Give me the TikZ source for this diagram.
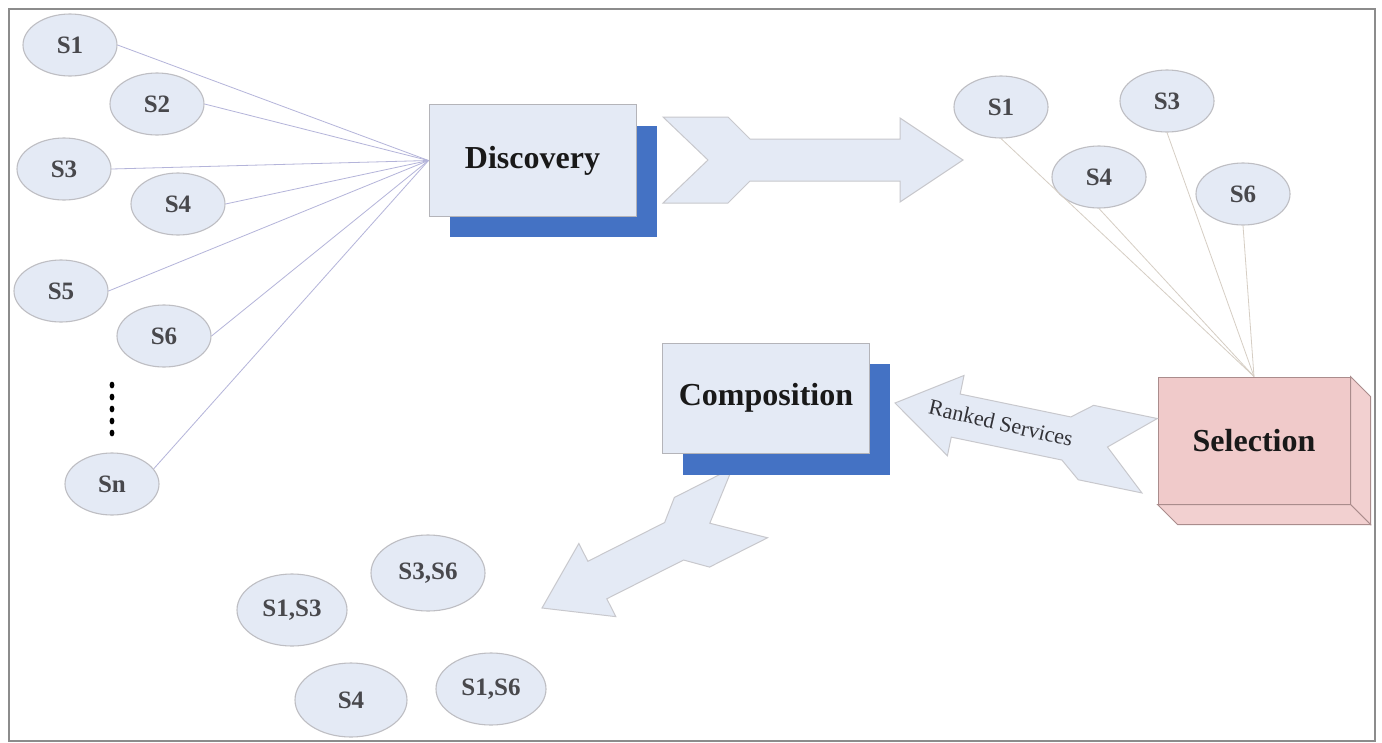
\documentclass[tikz,border=0pt]{standalone}
\usepackage{fontspec}
\setmainfont{Liberation Serif}
\usetikzlibrary{shapes.geometric,calc}
\definecolor{ellfill}{RGB}{228,234,245}
\definecolor{ellline}{RGB}{190,190,195}
\definecolor{svctext}{RGB}{72,72,76}
\definecolor{boxfill}{RGB}{228,234,245}
\definecolor{boxline}{RGB}{180,180,185}
\definecolor{shadowblue}{RGB}{68,114,196}
\definecolor{pinkfront}{RGB}{240,202,202}
\definecolor{pinkside}{RGB}{242,208,208}
\definecolor{pinkline}{RGB}{170,140,140}
\definecolor{leftline}{RGB}{180,180,218}
\definecolor{rightline}{RGB}{214,206,196}
\definecolor{framecol}{RGB}{140,140,140}
\definecolor{arrowline}{RGB}{200,200,205}
\newcommand{\svcfont}{\fontsize{25}{30}\selectfont\bfseries}
\newcommand{\titlefont}{\fontsize{32}{36}\selectfont\bfseries}
\newcommand{\rankfont}{\fontsize{22}{24}\selectfont}
\tikzset{
  svc/.style={ellipse, draw=ellline, fill=ellfill, line width=1.1pt, minimum width=94, minimum height=62, inner sep=0pt, font=\svcfont, text=svctext},
  svcbig/.style={svc, minimum width=110, minimum height=72},
  frontbox/.style={rectangle, draw=boxline, fill=boxfill, line width=1pt, minimum width=207, minimum height=112, inner sep=0pt, font=\titlefont, text={rgb,255:red,25;green,25;blue,25}},
  shadowbox/.style={rectangle, fill=shadowblue, minimum width=207, minimum height=111, inner sep=0pt},
  selbox/.style={rectangle, draw=pinkline, fill=pinkfront, line width=1pt, minimum width=192, minimum height=127, inner sep=0pt, font=\titlefont, text={rgb,255:red,25;green,25;blue,25}},
  lconn/.style={draw=leftline, line width=0.8pt},
  rconn/.style={draw=rightline, line width=0.8pt},
  blockarrow/.style={fill=boxfill, draw=arrowline, line width=1pt, line join=miter},
}
\begin{document}
\begin{tikzpicture}[x=1pt,y=-1pt]
\useasboundingbox (0,0) rectangle (1382,742);
\fill[white] (0,0) rectangle (1382,742);
\draw[framecol, line width=2.5pt] (9,9) rectangle (1375,741);

% boxes (nodes defined first for connectors)
\node[shadowbox] (discsh) at (553.5,181.5) {};
\node[frontbox] (disc) at (532.5,160.5) {Discovery};

% left service ellipses
\node[svc] (l1) at (70,45) {S1};
\node[svc] (l2) at (157,104) {S2};
\node[svc] (l3) at (64,169) {S3};
\node[svc] (l4) at (178,204) {S4};
\node[svc] (l5) at (61,291) {S5};
\node[svc] (l6) at (164,336) {S6};
\node[svc] (ln) at (112,484) {Sn};
\foreach \yy in {385,397,409,421,433}
  \fill[black] (112,\yy) ellipse [x radius=2.4pt, y radius=3.4pt];

\foreach \s in {l1,l2,l3,l4,l5,l6}
  \draw[lconn] (\s.east) -- (disc.west);
\draw[lconn] (ln.20) -- (disc.west);

% discovery arrow
\begin{scope}[shift={(963,160)}, rotate=180]
\draw[blockarrow] (0,0) -- (63,-42) -- (63,-21) -- (213,-21) -- (235,-43) -- (300,-43) -- (255,0) -- (300,43) -- (235,43) -- (213,21) -- (63,21) -- (63,42) -- cycle;
\end{scope}

% selection box (3D)
\node[selbox] (sel) at (1254,440.5) {};
\filldraw[fill=pinkside, draw=pinkline, line width=1pt] (sel.north east) -- ($(sel.north east)+(20,20)$) -- ($(sel.south east)+(20,20)$) -- (sel.south east) -- cycle;
\filldraw[fill=pinkside, draw=pinkline, line width=1pt] (sel.south west) -- (sel.south east) -- ($(sel.south east)+(20,20)$) -- ($(sel.south west)+(20,20)$) -- cycle;
\node[selbox] at (sel.center) {Selection};

% right service ellipses
\node[svc] (r1) at (1001,107) {S1};
\node[svc] (r3) at (1167,101) {S3};
\node[svc] (r4) at (1099,177) {S4};
\node[svc] (r6) at (1243,194) {S6};
\foreach \s in {r1,r3,r4,r6}
  \draw[rconn] (\s.south) -- (sel.north);

% ranked services arrow
\begin{scope}[shift={(895,403)}, rotate=-11.7]
\draw[blockarrow] (0,0) -- (62,-41) -- (62,-22) -- (175,-22) -- (195,-38) -- (260,-38) -- (217,0) -- (260,38) -- (195,38) -- (175,22) -- (62,22) -- (62,41) -- cycle;
\end{scope}
\node[rotate=-13, font=\rankfont, text={rgb,255:red,50;green,50;blue,55}, inner sep=0pt] (rank) at (1001,423) {Ranked Services};

% composition arrow
\begin{scope}[shift={(542,608)}, rotate=26.8]
\draw[blockarrow] (0,0) -- (62,-41) -- (62,-21) -- (148,-21) -- (168,-39) -- (233,-39) -- (188,0) -- (233,39) -- (168,39) -- (148,21) -- (62,21) -- (62,41) -- cycle;
\end{scope}

% composition box
\node[shadowbox] (compsh) at (786,419) {};
\node[frontbox, minimum height=110] (comp) at (766,398) {Composition};

% composed services
\node[svcbig, minimum width=114, minimum height=76] (b36) at (428,573) {S3,S6};
\node[svcbig] (b13) at (292,610) {S1,S3};
\node[svcbig, minimum width=112, minimum height=74] (b4) at (351,700) {S4};
\node[svcbig] (b16) at (491,689) {S1,S6};
\end{tikzpicture}
\end{document}
